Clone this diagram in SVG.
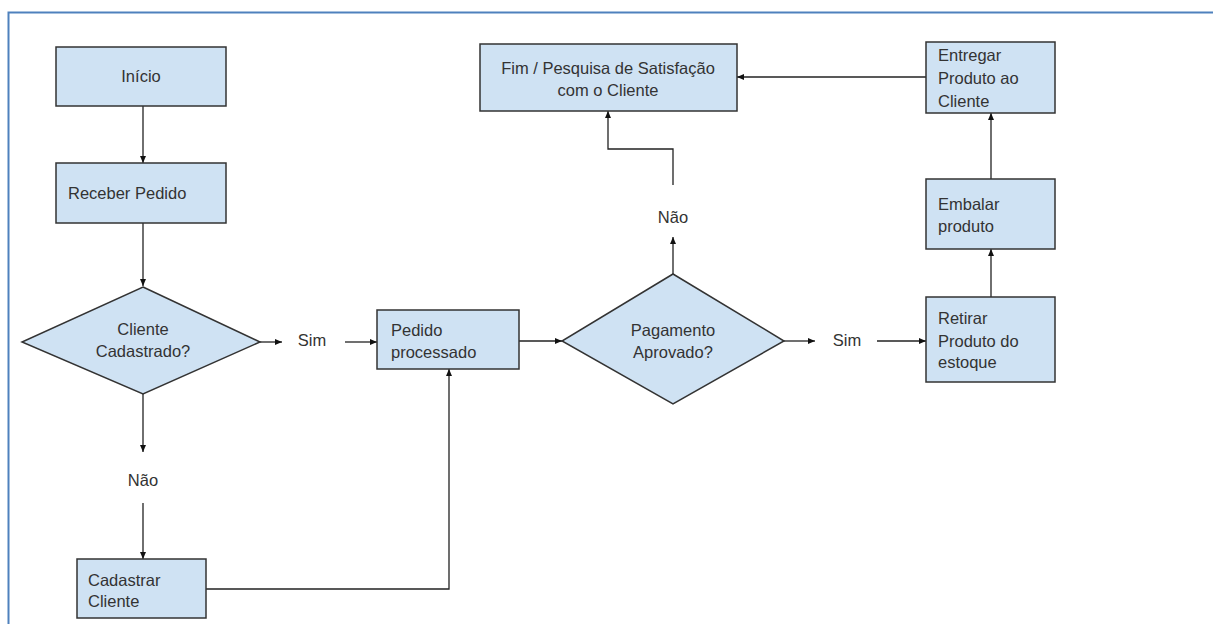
<svg xmlns="http://www.w3.org/2000/svg" width="1213" height="624" viewBox="0 0 1213 624">
<defs>
<marker id="ah" markerWidth="8" markerHeight="8" refX="7" refY="4" orient="auto" markerUnits="userSpaceOnUse">
<path d="M0,1 L7,4 L0,7 Z" fill="#111"/>
</marker>
<style>
.box{fill:#cfe2f3;stroke:#333;stroke-width:1.5}
.t{font-family:"Liberation Sans",Arial,sans-serif;font-size:16.5px;fill:#333}
.m{text-anchor:middle}
.c{fill:none;stroke:#222;stroke-width:1.3}
.a{marker-end:url(#ah)}
</style>
</defs>
<rect width="1213" height="624" fill="#fff"/>
<path d="M8.5,624 V12.5 H1213" fill="none" stroke="#4f81bd" stroke-width="2"/>
<g id="connectors">
<path class="c a" d="M143,106 V163"/>
<path class="c a" d="M143,223 V286"/>
<path class="c a" d="M260,342 H282"/>
<path class="c a" d="M345,342 H377"/>
<path class="c a" d="M519,341 H562"/>
<path class="c a" d="M143,394 V452"/>
<path class="c a" d="M143,503 V559"/>
<path class="c a" d="M206,589 H449 V369"/>
<path class="c a" d="M673,274 V237"/>
<path class="c a" d="M673,185 V149 H608 V111"/>
<path class="c a" d="M784,341 H815"/>
<path class="c a" d="M877,341 H926"/>
<path class="c a" d="M991,297 V249"/>
<path class="c a" d="M991,179 V113"/>
<path class="c a" d="M926,77 H737"/>
</g>
<g id="inicio"><rect class="box" x="56" y="47" width="170" height="59"/><text class="t m" x="141" y="82">Início</text></g>
<g id="receber"><rect class="box" x="56" y="163" width="170" height="60"/><text class="t" x="68" y="199">Receber Pedido</text></g>
<g id="cliente-cadastrado"><polygon class="box" points="143,287 260,342 143,394 22,342"/><text class="t m" x="143" y="335">Cliente</text><text class="t m" x="143" y="357">Cadastrado?</text></g>
<g id="sim1"><text class="t m" x="312" y="346">Sim</text></g>
<g id="nao1"><text class="t m" x="143" y="486">Não</text></g>
<g id="cadastrar"><rect class="box" x="77" y="559" width="129" height="59"/><text class="t" x="88" y="586">Cadastrar</text><text class="t" x="88" y="607">Cliente</text></g>
<g id="pedido"><rect class="box" x="377" y="310" width="142" height="59"/><text class="t" x="391" y="336">Pedido</text><text class="t" x="391" y="358">processado</text></g>
<g id="pagamento"><polygon class="box" points="673,274 784,341 673,404 562,341"/><text class="t m" x="673" y="336">Pagamento</text><text class="t m" x="673" y="358">Aprovado?</text></g>
<g id="nao2"><text class="t m" x="673" y="223">Não</text></g>
<g id="sim2"><text class="t m" x="847" y="346">Sim</text></g>
<g id="fim"><rect class="box" x="480" y="44" width="257" height="67"/><text class="t m" x="608" y="74">Fim / Pesquisa de Satisfação</text><text class="t m" x="608" y="96">com o Cliente</text></g>
<g id="retirar"><rect class="box" x="926" y="297" width="129" height="85"/><text class="t" x="938" y="324">Retirar</text><text class="t" x="938" y="347">Produto do</text><text class="t" x="938" y="368">estoque</text></g>
<g id="embalar"><rect class="box" x="926" y="179" width="129" height="70"/><text class="t" x="938" y="210">Embalar</text><text class="t" x="938" y="232">produto</text></g>
<g id="entregar"><rect class="box" x="926" y="42" width="129" height="71"/><text class="t" x="938" y="61">Entregar</text><text class="t" x="938" y="84">Produto ao</text><text class="t" x="938" y="107">Cliente</text></g>
</svg>
